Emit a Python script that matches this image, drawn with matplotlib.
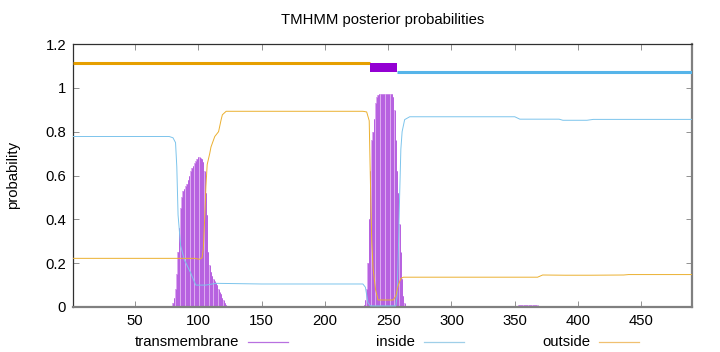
import numpy as np
import matplotlib
matplotlib.use("Agg")
import matplotlib.pyplot as plt
from matplotlib.lines import Line2D

plt.rcParams['font.family'] = ['Liberation Sans', 'DejaVu Sans']

# ---- data ----
seq_len = 490

# transmembrane posterior probability (per residue, impulses)
tm1_res = list(range(80, 123))
tm1_prob = [0.02, 0.04, 0.08, 0.15, 0.25, 0.36, 0.45, 0.50, 0.53, 0.54,
            0.55, 0.56, 0.58, 0.60, 0.62, 0.635, 0.645, 0.655, 0.665, 0.675,
            0.683, 0.683, 0.68, 0.675, 0.66, 0.62, 0.52, 0.42, 0.25, 0.19,
            0.16, 0.14, 0.13, 0.12, 0.11, 0.10, 0.08, 0.07, 0.06, 0.04,
            0.03, 0.02, 0.01]
tm2_res = list(range(231, 264))
tm2_prob = [0.01, 0.03, 0.08, 0.20, 0.40, 0.62, 0.76, 0.80, 0.86, 0.93,
            0.96, 0.968, 0.97, 0.97, 0.97, 0.97, 0.97, 0.97, 0.97, 0.97,
            0.97, 0.97, 0.97, 0.96, 0.90, 0.76, 0.62, 0.52, 0.38, 0.25,
            0.13, 0.05, 0.02]
tm3_res = list(range(351, 373)) + list(range(386, 408))
tm3_prob = [0.004, 0.006, 0.008, 0.009, 0.010, 0.010, 0.010, 0.010, 0.010, 0.010,
            0.010, 0.010, 0.010, 0.009, 0.009, 0.008, 0.008, 0.007, 0.006, 0.005,
            0.004, 0.003,
            0.002, 0.003, 0.004, 0.005, 0.005, 0.006, 0.006, 0.006, 0.006, 0.006,
            0.006, 0.006, 0.006, 0.006, 0.005, 0.005, 0.004, 0.004, 0.003, 0.003,
            0.002, 0.002]

# inside posterior probability (breakpoints of the curve)
inside_res = [1, 77, 80, 82, 83, 84, 86, 89, 94, 98, 106, 114, 150, 230, 232,
              234, 236, 256, 257, 258, 259, 260, 261, 263, 267, 350, 354, 385,
              388, 407, 412, 490]
inside_prob = [0.778, 0.778, 0.772, 0.75, 0.64, 0.42, 0.28, 0.215, 0.155, 0.10,
               0.10, 0.108, 0.105, 0.105, 0.09, 0.02, 0.005, 0.005, 0.05, 0.25,
               0.50, 0.72, 0.80, 0.855, 0.868, 0.868, 0.857, 0.857, 0.852,
               0.852, 0.856, 0.856]

# outside posterior probability (breakpoints of the curve)
outside_res = [1, 97, 101, 103, 104, 105, 106, 107, 109, 110, 113, 116, 118,
               119, 122, 230, 233, 235, 236, 237, 238, 240, 242, 254, 256, 258,
               260, 262, 368, 372, 390, 410, 436, 440, 490]
outside_prob = [0.222, 0.222, 0.218, 0.225, 0.27, 0.40, 0.55, 0.65, 0.70, 0.73,
                0.778, 0.80, 0.854, 0.877, 0.893, 0.893, 0.89, 0.85, 0.56, 0.30,
                0.18, 0.08, 0.032, 0.032, 0.05, 0.10, 0.13, 0.136, 0.136, 0.146,
                0.145, 0.145, 0.146, 0.148, 0.148]

# predicted topology (top bar)
topo_start = [1, 236, 257]
topo_end = [236, 257, 490]
topo_label = ['outside', 'TMhelix', 'inside']

# ---- colours ----
c_tm = '#9400d3'
c_in = '#56b4e9'
c_out = '#e69f00'

fig = plt.figure(figsize=(7.2, 3.52), dpi=100)
ax = fig.add_axes([73 / 720, 1 - 307 / 352, (692 - 73) / 720, (307 - 44) / 352])

# impulses
all_res = tm1_res + tm2_res + tm3_res
all_prob = tm1_prob + tm2_prob + tm3_prob
ax.bar(all_res, all_prob, width=1.0, color='#dcaaf0', edgecolor='none', zorder=1)
ax.vlines(all_res, 0, all_prob, color='#b660e0', lw=0.7, zorder=2)

# posterior curves
ax.plot(inside_res, inside_prob, color='#7cc4ec', lw=0.7, zorder=3)
ax.plot(outside_res, outside_prob, color='#ebb030', lw=0.7, zorder=3)

# topology bar
for s, e, lab in zip(topo_start, topo_end, topo_label):
    if lab == 'outside':
        ax.plot([s, e], [1.113, 1.113], color=c_out, lw=2.2, solid_capstyle='butt', zorder=4)
    elif lab == 'inside':
        ax.plot([s, e], [1.072, 1.072], color=c_in, lw=2.2, solid_capstyle='butt', zorder=4)
    else:
        ax.fill_between([s, e], 1.072, 1.113, color=c_tm, lw=0, zorder=4)

FS = 10.7
ax.set_xlim(1, seq_len)
ax.set_ylim(0, 1.2)
ax.set_xticks([50, 100, 150, 200, 250, 300, 350, 400, 450])
ax.set_yticks([0, 0.2, 0.4, 0.6, 0.8, 1.0, 1.2])
ax.set_yticklabels(['0', '0.2', '0.4', '0.6', '0.8', '1', '1.2'])
ax.tick_params(direction='in', top=True, right=True, length=4, width=0.6,
               colors='#808080', labelcolor='black', labelsize=FS, pad=5)
for sp in ax.spines.values():
    sp.set_color('#303030')
    sp.set_linewidth(0.9)
ax.spines['bottom'].set_color('#808080')
ax.spines['right'].set_color('#808080')
ax.spines['bottom'].set_linewidth(1.6)
ax.spines['right'].set_linewidth(1.6)

fig.text(383 / 720, 1 - 20 / 352, 'TMHMM posterior probabilities', ha='center',
         va='center', fontsize=FS)
fig.text(13 / 720, 1 - 175 / 352, 'probability', ha='center', va='center',
         rotation=90, fontsize=FS)

# key
key_labels = ['transmembrane', 'inside', 'outside']
key_colors = ['#b870e0', '#9fcfe8', '#f0c070']
key_line_start = [248, 424, 599]
key_y = 1 - 342 / 352
for lab, col, xs in zip(key_labels, key_colors, key_line_start):
    fig.text((xs - 9) / 720, key_y, lab, ha='right', va='center', fontsize=FS)
    fig.add_artist(Line2D([xs / 720, (xs + 40) / 720], [key_y, key_y], color=col, lw=0.9))

fig.savefig('out.png', dpi=100)
